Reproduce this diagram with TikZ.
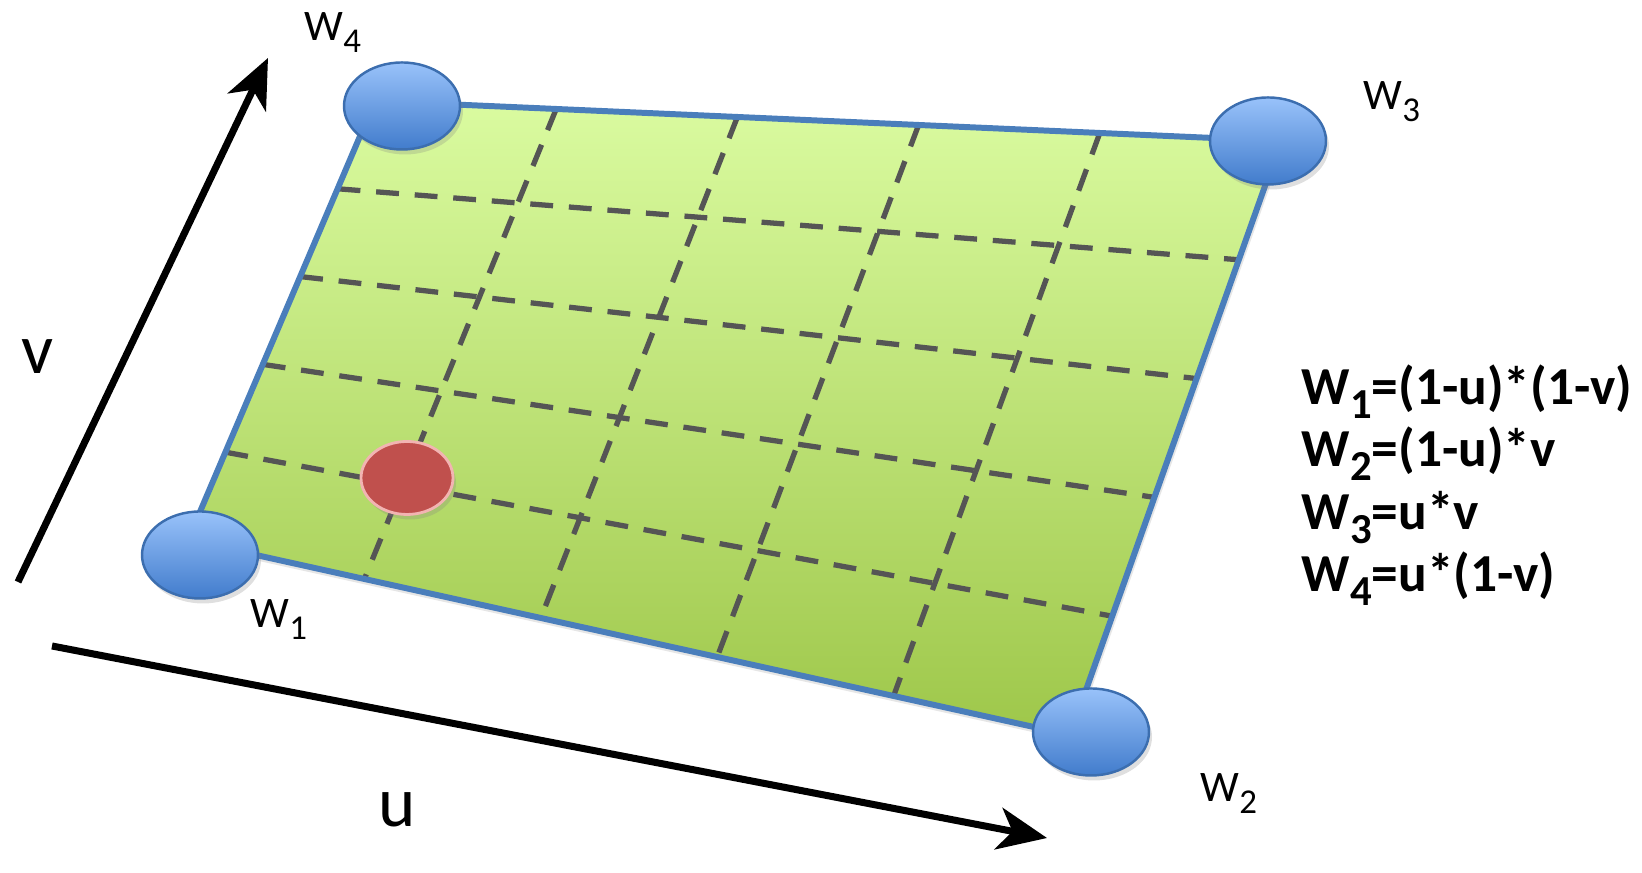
\documentclass[tikz,border=0pt]{standalone}
\usepackage{fontspec}
\setmainfont{Carlito}
\usepackage{graphicx}
\usepackage{tikz}
\usetikzlibrary{shapes.geometric,arrows.meta,calc,shadows}
\definecolor{patchtop}{RGB}{218,251,160}
\definecolor{patchbot}{RGB}{158,199,74}
\definecolor{patchedge}{RGB}{74,126,187}
\definecolor{gridgray}{RGB}{85,85,85}
\definecolor{wtop}{RGB}{153,194,250}
\definecolor{wbot}{RGB}{66,124,204}
\definecolor{wedge}{RGB}{60,110,175}
\definecolor{pred}{RGB}{192,80,77}
\definecolor{pedge}{RGB}{242,180,178}

% lowered index after a W
\newcommand{\lowidx}[1]{\raisebox{-0.26em}{\scalebox{0.8}{#1}}}

\tikzset{
  patch/.style={top color=patchtop, bottom color=patchbot,
    drop shadow={opacity=0.2, shadow xshift=0.03cm, shadow yshift=-0.06cm}},
  rim/.style={draw=patchedge, line width=1.7pt, line join=round},
  gridline/.style={draw=gridgray, line width=1.5pt, dash pattern=on 6.5pt off 4.5pt},
  wdot/.style={ellipse, draw=wedge, line width=0.7pt, minimum width=1.16cm,
    minimum height=0.87cm, inner sep=0pt, top color=wtop, bottom color=wbot,
    drop shadow={opacity=0.25, shadow xshift=0.03cm, shadow yshift=-0.05cm}},
  pdot/.style={ellipse, draw=pedge, fill=pred, line width=0.8pt, minimum width=0.92cm,
    minimum height=0.73cm, inner sep=0pt,
    drop shadow={opacity=0.25, shadow xshift=0.03cm, shadow yshift=-0.05cm}},
  wlabel/.style={anchor=base west, inner sep=0pt, font=\fontsize{12.4}{15}\selectfont},
  axis/.style={line width=2pt, -{Stealth[length=14pt, width=12pt, inset=4pt]}},
  axlabel/.style={inner sep=0pt, font=\fontsize{20.2}{24}\selectfont},
  formula/.style={anchor=base west, align=left, inner sep=0pt,
    font=\fontsize{15.2}{17.8}\selectfont\bfseries}
}

\begin{document}
\begin{tikzpicture}
  \useasboundingbox (0,0) rectangle (16.42,8.73);

  % corners of the patch
  \coordinate (A) at (1.88,3.33);
  \coordinate (B) at (10.70,1.38);
  \coordinate (C) at (12.81,7.32);
  \coordinate (D) at (3.75,7.72);

  \path[patch] (A) -- (B) -- (C) -- (D) -- cycle;

  % 5x5 cells
  \foreach \t in {0.2,0.4,0.6,0.8} {
    \draw[gridline] ($(D)!\t!(C)$) -- ($(A)!\t!(B)$);
    \draw[gridline] ($(D)!\t!(A)$) -- ($(C)!\t!(B)$);
  }

  \draw[rim] (A) -- (B) -- (C) -- (D) -- cycle;

  % corner weights and sample point
  \node[wdot] (w1) at (2.00,3.18) {};
  \node[wdot] (w2) at (10.91,1.41) {};
  \node[wdot] (w3) at (12.68,7.32) {};
  \node[wdot] (w4) at (4.02,7.67) {};
  \node[pdot] (p) at (4.07,3.95) {};

  \node[wlabel] (l1) at (2.50,2.45) {W\lowidx{1}};
  \node[wlabel] (l2) at (12.00,0.71) {W\lowidx{2}};
  \node[wlabel] (l3) at (13.63,7.63) {W\lowidx{3}};
  \node[wlabel] (l4) at (3.04,8.32) {W\lowidx{4}};

  % u and v directions
  \coordinate (v0) at (0.18,2.91);
  \coordinate (v1) at (2.68,8.15);
  \coordinate (u0) at (0.52,2.27);
  \coordinate (u1) at (10.47,0.35);
  \draw[axis] (v0) -- (v1);
  \draw[axis] (u0) -- (u1);
  \node[axlabel] (vl) at (0.38,5.16) {v};
  \node[axlabel] (ul) at (3.97,0.63) {u};

  % base sits on the last line
  \node[formula] (wf) at (13.01,2.81) {W\lowidx{1}=(1-u)*(1-v)\\
    W\lowidx{2}=(1-u)*v\\
    W\lowidx{3}=u*v\\
    W\lowidx{4}=u*(1-v)};
\end{tikzpicture}
\end{document}
